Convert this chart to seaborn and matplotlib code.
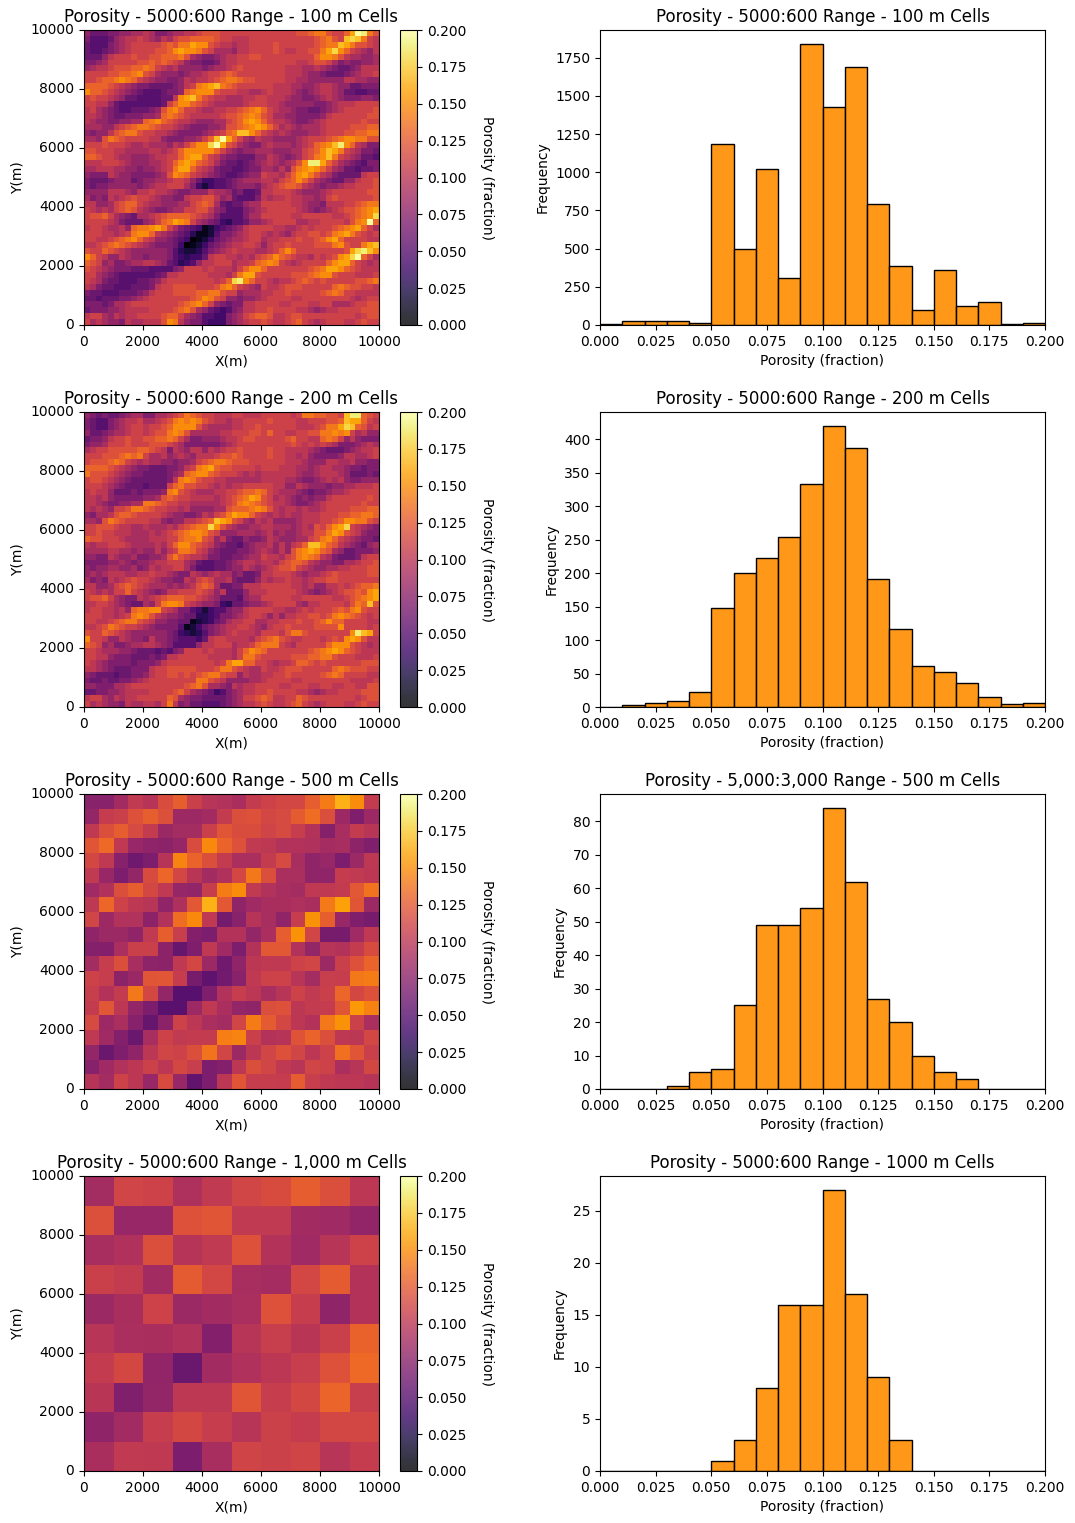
import numpy as np
import matplotlib
matplotlib.use('Agg')
import matplotlib.pyplot as plt
import seaborn as sns

# porosity maps, one char per cell, in hundredths (0-9, a=10 ... k=20)
# top row of each list is the north edge of the map
# NOTE: map_100 is only read at 50x50 (200 m blocks), not the 100x100 cells of the original,
# so its streaks are approximate and coarser than the reference
map_100 = [
"8666778899 a977899aab cccbbbbbbb bbbbbbccde ecbbdgkjec",
"7555689aab a98a9bccdd ddcbbaaabb bbbbbbbbbc decbhiheba",
"6555789abb bbbcdceegf fcbaa9aabb bbcbbbbbbc deehgeccba",
"6556789abb bbccdfgffe cb9998aabb bbcbaabbcc egifdba98a",
"6668abbbcb bccdddec98 7789aabbcc bbbbbbbbbd ffeca99889",
"7789bbbbbc cdcdcba877 6679aabbbb bbbbbbaabc cb97877889",
"89aabcccdd edba9a8888 7899abcbbb bbbbaaa99a 9876678aaa",
"bbbbccddef cb98887899 abbcdcbbbb bbbbaaa988 7666789aab",
"bbcddefedb a988778a9a abcdeedccb bbbbaa9988 8888aa9988",
"ddddcba987 7666678abe fghedcbbbb bbaaa99889 aa98866777",
"fddcba9876 5556778def ffcbbbaa99 abaaa98789 aa98665566",
"bcbba98665 55566afghe cbaa999aab baaa988778 9a98777887",
"bbaa865555 5556bdffdc ba99999abb baa9888887 789aaabbbb",
"ab98765566 678cefdbba 99aabbcdef dba9987766 789abbbbbc",
"aa98766777 889dedcbaa aaabccdefe cb99887777 8abbbbbbcc",
"a988778899 defdcbaa98 8899bcdfgf dbaa987789 abbbbbbcbb",
"99988abcde edcbba9877 7889ccdefg fdb9a98999 abbbbcccdd",
"8788acdeec bbaa987777 89abdehhfd ba9a988899 abbbccddee",
"998cedcbbb baa8777889 bdhkgdb98a 9988889abb bcdeffeecc",
"bbbcbbba99 a9998a9bdf fikgcb9877 9a99989abd efhjfda977",
"ccbbbaa999 9aa9abdfff ffdb987889 9988899bcd fhgeba9776",
"ddcbba9988 89aabbdfgg dba8776668 8a98789bce fheba98665",
"aaabbba988 899abdfgfd cb97665678 9a989acfjj gdb9876577",
"99aaa99887 889abeggdb a976655677 998a8cefgf db98665667",
"8777a98877 7789cfedba 9876556788 baa9bdfgec a976666abb",
"7666788867 8899abba86 4455678999 aa9bcdfdb9 876688abbc",
"7677888887 89aabbb974 2455678887 9abcddca98 7889aabbbc",
"8888aaa98a abaa987788 8a99867556 aabbba9888 9abbbbbbcc",
"9787a9abcb ba98877abb cca8965557 a9aabaa998 9bcbbbbbbc",
"aa889bcddb a9988899bc dc96566899 bbbbbaa988 7aaabbcdee",
"ba9a9bcdca 9877899bbc ca87555789 abbbbba987 89abccdefg",
"bccdb98769 9abcddddcb a975555799 bbbbbaabbb bbaabcdefi",
"bbbba97666 89bdegfeb9 8764355688 9abbbb99aa bbbbacefkd",
"abba99a8de efgeb97654 1245678abb bbaa99abab bbcdefgdb9",
"bbbaa9abef fda9876531 1257789abb a9a98abbcc bcefgecbab",
"bbaabcdefd ba88765401 2467899abb 9aabbbcbbc dfgdbbbbaa",
"aabcdedcba 9877764012 46789aabba 8abbcbbbbc ccefcbbegh",
"cbbdcba988 8888753223 5789abaaa9 9abdfdbbbb bbbbcgijhf",
"fdba88a988 7888754344 6abbaa9a9b cdfdcbaa9b abcfgikdb9",
"dcb8977899 aa98653458 aabbb9aabd efeba9abbb bdfggdba9a",
"cba9877766 6555578bbb abaaa9bdff dbbbbbbbcd eggfdcbaaa",
"bb98765555 5567aabbbb baaa9beggc bbbbbcccde ffcbbbaaab",
"ba97665556 678abbbbbb bbabdijfdb ba9aabcdcb cbbbbbccde",
"a976655566 67abbccccb bbcefdba98 baabcccbbb bbdedccbba",
"7665556667 8abbbccccd deecbb8999 aabbcbbbbb cdedbbaaaa",
"6656667789 abbbbbbbcd fecb887889 abbbbaabbb bbbbba9abb",
"7776799abb bbbbbbcdef db87677aab bbbaabbbaa bb999abbcc",
"6777889aaa abbbbcdec9 8654578aab bcbbbbaa98 9aabbbbccc",
"abb98a9aab bbbcddb987 5544789bcd dcaabccbbb bbbbbbabcc",
"b9a9887a99 aaacfea877 5444789abb cbaabcdba9 abbbaabcbb",
]

map_200 = [
"8767667899 7799abcedc bbaaabbaaa bbbbbabeed dccbhjjdcb",
"7655789aab 99abcefefe cbaa9aabbb bcbbbbaabb bccdhggdba",
"7655789abb abbcdffffc a9999aabbc bbbbbbaaab ceegihdcab",
"8667899abb abccefec99 999aabbbcc bdbbaabbcc eefefb9a88",
"6778abbcbb ccddedb977 8889aabccb bbbbcdbbaa dedb8a8777",
"7889bbbcbb bcccba9777 77789abbbb bbbbbcbaba ba977789a9",
"9abbcccccd dcba7a98aa 8a9abbcbbb bcbbaaaa98 7666789aab",
"bbbcccdede b99a89a98a aabccdcbbb bcbbaa9a87 7778aa99ab",
"bcccdedba9 a99887889b cdeedcccbb bbbbaaa988 8aa99a8877",
"ddddcba987 7666778abe fgdccbbbba bbbaaa9989 aa99877677",
"ecccba9877 6666789def fdcbbba9a9 aaaaaa9889 aaa9866676",
"bccba98766 66667aefec bbaa999999 aaaa998778 9a9a877888",
"bbba987666 5666bdeccb ba9a9aabbb bbaa88a988 878899aaab",
"abaa866676 7778efcba9 99aabbcdde dba9998767 7899abbbbb",
"aa9a877777 889cdcbbaa aa9abcdegf cb9a987878 8abbbbbbcb",
"aa98778899 eedcbbaa99 999abcefed cbaa987789 abbbbbbcbb",
"a9a98bbcee dcbbaa9a88 8899cdddef eca9aa9a99 abbbbcccdd",
"8799acddcb bbba988778 a9bcegffdb a9a9a99aaa bbbccddeed",
"998cedcbbb baa8788aab cdhgfcb98a 9a88889aaa bbcdffeecb",
"bbcccbaa99 a999a9bcde eifca98899 aa99989a9c bdfgiba987",
"bbcbbaaa99 9a9abcdeff ecb8889998 9a89889aac cegfcba877",
"dccbbba999 9aaabbdeef cb8a766877 8a988899bc efdba98776",
"a9aabbba99 99a9bdffdc ba87665789 9a8a8abdhh fdca987689",
"9999aa9989 88a8abeedb a876667789 a98a8cefgf dc98667778",
"8877a98897 7889cecbaa 9776677899 baa9bcefed a976667abb",
"7777889878 89aabbb986 5566789aa9 aa9bcddca9 887799abbc",
"8788998897 8a9aabb975 5566788a98 9abccdba98 899aabbbcc",
"8989aaa99a abaa9877a9 89a9978667 aabbba9899 abcbbbbbcc",
"9787a9abcb ba98877a9b cb99a76668 a9aabaa9ab bccbbbbbbb",
"aa889bcdcb a9998989ac dc96677aaa bbbbbaa9a8 8aababcdde",
"ba9a9bbdba 9878aabbbc ba8a6668aa abbbbba987 89abccdcfg",
"bccdb9877a 9abcdddccb a986665899 bbbbbaabbb bbaabcdefg",
"aabba98766 98beffeba9 8874366788 9abbbb98aa bbbbacedhc",
"abbaa9a8de effba97754 2455788abb bbaa99abab bbcdcefcbb",
"bbbaa9abef eca9887663 3457789abb a8a8aabbcc bcefedcbab",
"bbaabcdeec ba88776612 34679aabb9 9aabbbcbbc dfddbbbbaa",
"aabcedcbba 9877775124 6789aabba9 8abbcbbbbc cccfbbbbab",
"cbbdcba988 8888764323 5789abaaa9 bbbaceecbb bbbbbfjhgb",
"fbba88a988 7a88765554 6abbaaaa9b cdecbaabbb abcbfgfcaa",
"dcb8977899 aa98755558 aabbb9aabd eeeba9bbbb bdfffcba9a",
"bba9998876 6656578bbb abaaa9bdfe dbbbbbbbcd efgfdcbaaa",
"bbaa877766 6767aabbbb baaaa9beec bbbbbcccdd eecbbbaaab",
"ba98777767 778abbbbbb bbabeggddb ba9aabddcb cbbbbbbccc",
"aa98766677 7abbcccccb bbceecba99 baabcccbbb bbdedcccbb",
"8766656677 8abbccbcbc deecbb8a99 aabbcbbbbb cdedbbbbaa",
"7667667789 abbbbbbbbe ecba888899 abbbbaabbb bbbbbaaaab",
"8877799abb bbbbbbbcde c9987a9aab bbbaabbbaa bbaabbaacc",
"6677889aaa abbbbcdb98 7645789aab bcbbbbaa98 9aabbbbccc",
"abb98a9aab bbbbdc9877 6666789bbc dcaabbdcbb bbbbbbabcc",
"b9a9887a99 aa9bea7866 5556789aab cbaabcdba9 abbbaabcbb",
]

# coarser maps, thousandths of porosity
map_500 = [
[75,75,87,103,97,117,128,108,98,95,91,104,110,113,114,127,142,165,150,104],
[80,105,108,120,128,119,85,85,87,104,118,120,113,115,125,135,118,85,70,85],
[102,118,127,115,104,83,88,88,108,122,117,117,111,115,106,96,73,90,104,98],
[122,133,102,82,78,76,81,117,148,130,120,103,101,95,96,94,89,90,77,71],
[114,102,74,62,68,97,146,130,118,104,92,92,104,115,90,78,82,68,84,101],
[103,82,68,80,116,132,113,99,87,94,113,140,118,92,92,78,78,105,103,100],
[86,94,118,127,114,102,81,79,106,142,150,103,95,90,88,102,102,104,124,138],
[101,132,110,101,98,78,93,124,165,124,78,86,90,91,93,91,141,158,122,84],
[112,85,95,95,76,95,135,148,102,65,75,97,90,78,106,152,128,82,70,66],
[78,84,84,78,103,128,107,72,68,96,96,80,92,127,152,112,66,66,86,102],
[73,72,92,108,108,76,58,70,102,86,68,96,124,124,95,80,98,96,104,116],
[88,106,118,90,77,76,102,113,85,63,78,100,102,102,110,112,84,108,120,130],
[110,106,76,83,122,123,105,66,54,64,75,102,110,110,98,88,107,106,140,142],
[107,96,104,140,114,80,50,50,70,95,106,100,90,98,110,103,108,132,114,120],
[104,123,100,80,68,52,52,85,102,92,80,78,118,120,100,104,105,122,155,145],
[115,85,92,74,58,76,110,100,92,88,112,142,125,113,100,96,140,152,109,92],
[102,86,72,60,90,110,103,104,104,143,146,108,96,97,121,130,118,101,100,113],
[80,60,70,78,100,112,110,118,138,112,84,100,112,120,112,100,110,136,122,108],
[74,86,95,100,109,100,114,107,68,72,100,118,112,102,98,112,110,92,98,114],
[97,88,110,100,82,116,82,55,68,100,122,106,106,105,126,107,102,100,100,97],
]

map_1000 = [
[88,112,110,93,103,112,116,127,118,100],
[119,82,82,120,122,103,103,87,86,79],
[90,94,118,97,103,120,96,86,98,110],
[108,104,87,125,113,90,89,113,125,96],
[84,91,110,84,87,92,120,106,78,96],
[98,92,91,95,72,98,107,99,108,129],
[104,114,79,60,87,94,100,107,120,133],
[99,71,80,101,101,122,106,114,131,107],
[78,87,106,114,106,98,109,105,113,113],
[91,103,102,68,90,111,109,111,98,105],
]

# histogram counts, 20 bins of 0.01 between 0 and 0.2
counts_100 = [8,25,25,25,15,1185,500,1020,305,1840,1430,1690,795,385,95,360,125,150,5,15]
counts_200 = [0,3,6,9,22,148,201,222,254,334,420,387,192,116,62,53,36,15,5,6]
counts_500 = [0,0,0,1,5,6,25,49,49,54,84,62,27,20,10,5,3,0,0,0]
counts_1000 = [0,0,0,0,0,1,3,8,16,16,27,17,9,3,0,0,0,0,0,0]

map_titles = ["Porosity - 5000:600 Range - 100 m Cells", "Porosity - 5000:600 Range - 200 m Cells",
              "Porosity - 5000:600 Range - 500 m Cells", "Porosity - 5000:600 Range - 1,000 m Cells"]
hist_titles = ["Porosity - 5000:600 Range - 100 m Cells", "Porosity - 5000:600 Range - 200 m Cells",
               "Porosity - 5,000:3,000 Range - 500 m Cells", "Porosity - 5000:600 Range - 1000 m Cells"]
xy_labels = ['0', '2000', '4000', '6000', '8000', '10000']
cbar_ticks = [0, 0.025, 0.05, 0.075, 0.1, 0.125, 0.15, 0.175, 0.2]
por_ticks = [0, 0.025, 0.05, 0.075, 0.1, 0.125, 0.15, 0.175, 0.2]
row_tops = [30, 412, 794, 1176]


def decode(rows):
    out = []
    for row in rows:
        row = row.replace(" ", "")
        row = row.ljust(50, row[-1])[:50]
        out.append([int(c, 21) / 100 for c in row])
    return np.array(out)


grids = [decode(map_100), decode(map_200), np.array(map_500) / 1000, np.array(map_1000) / 1000]
counts = [counts_100, counts_200, counts_500, counts_1000]
centers = (np.arange(20) + 0.5) / 100

W, H = 1075, 1523
fig = plt.figure(figsize=(W / 100, H / 100), dpi=100)


def box(x0, top, w, h):
    return [x0 / W, 1 - (top + h) / H, w / W, h / H]


for i in range(4):
    ax = fig.add_axes(box(84, row_tops[i], 295, 295))
    cax = fig.add_axes(box(400, row_tops[i], 17, 295))
    n = grids[i].shape[0]
    sns.heatmap(grids[i], ax=ax, cbar_ax=cax, cmap='inferno', vmin=0, vmax=0.2, square=False,
                cbar_kws={'ticks': cbar_ticks, 'format': '%.3f'})
    ax.set_xticks(np.linspace(0, n, 6))
    ax.set_xticklabels(xy_labels, rotation=0)
    ax.set_yticks(np.linspace(0, n, 6))
    ax.set_yticklabels(xy_labels[::-1], rotation=0)
    ax.tick_params(length=3.5, width=0.8)
    for s in ax.spines.values():
        s.set_visible(True)
        s.set_linewidth(0.8)
    ax.set_xlabel('X(m)')
    ax.set_ylabel('Y(m)')
    ax.set_title(map_titles[i])

    cbar = ax.collections[0].colorbar
    cbar.solids.set_alpha(0.8)
    cbar.outline.set_visible(True)
    cbar.outline.set_linewidth(0.8)
    cbar.set_label('Porosity (fraction)', rotation=270, labelpad=20)
    cax.tick_params(length=3.5, width=0.8)

    hax = fig.add_axes(box(600, row_tops[i], 445, 295))
    sns.histplot(x=centers, weights=counts[i], bins=20, binrange=(0, 0.2), color='darkorange', alpha=0.9,
                 edgecolor='black', linewidth=1, ax=hax)
    hax.set_xlim(0, 0.2)
    hax.set_xticks(por_ticks)
    hax.set_xlabel('Porosity (fraction)')
    hax.set_ylabel('Frequency')
    hax.set_title(hist_titles[i])

fig.savefig('out.png', dpi=100)
